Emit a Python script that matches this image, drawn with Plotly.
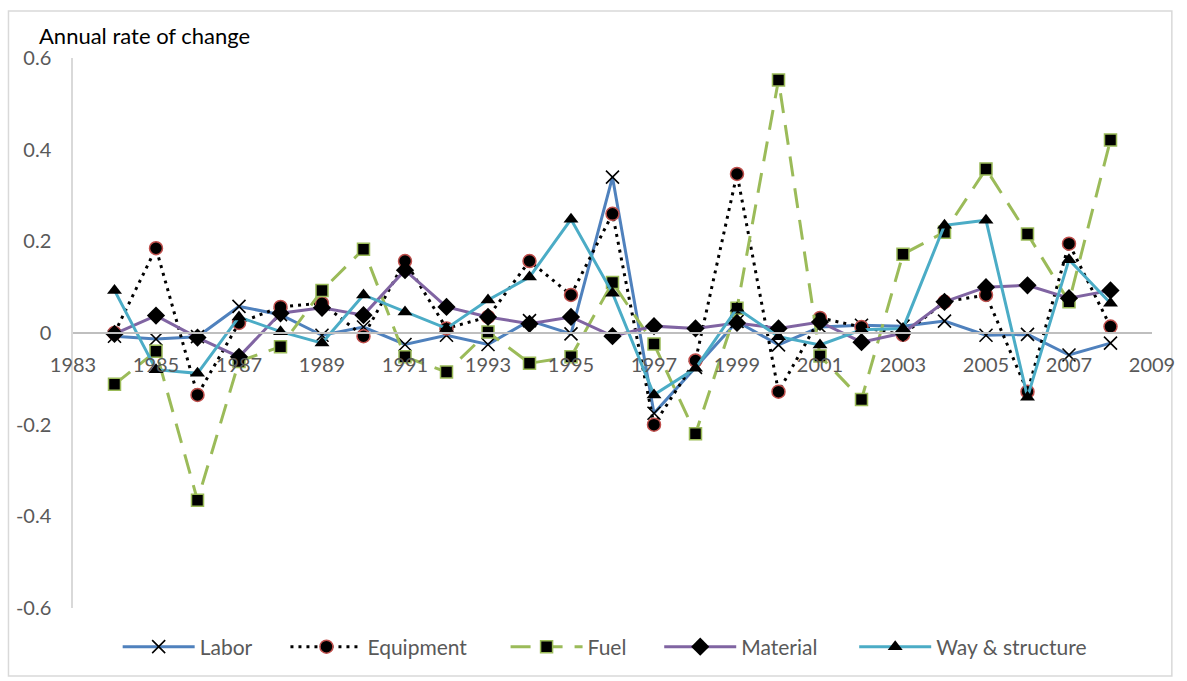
import plotly.graph_objects as go

years = list(range(1984, 2009))

labor = [-0.007, -0.013, -0.008, 0.058, 0.04, -0.005, 0.013, -0.025, -0.005, -0.025,
         0.027, -0.002, 0.34, -0.175, -0.075, 0.025, -0.026, 0.013, 0.017, 0.015,
         0.026, -0.005, -0.003, -0.048, -0.022]
equipment = [0.0, 0.185, -0.135, 0.022, 0.057, 0.065, -0.007, 0.157, 0.01, 0.035,
             0.157, 0.083, 0.26, -0.2, -0.06, 0.347, -0.128, 0.033, 0.013, -0.004,
             0.068, 0.083, -0.128, 0.195, 0.014]
fuel = [-0.112, -0.04, -0.365, -0.062, -0.03, 0.093, 0.183, -0.052, -0.085, 0.002,
        -0.066, -0.052, 0.11, -0.024, -0.22, 0.054, 0.552, -0.05, -0.145, 0.172,
        0.22, 0.358, 0.216, 0.068, 0.421]
material = [-0.002, 0.038, -0.01, -0.052, 0.043, 0.055, 0.039, 0.137, 0.057, 0.035,
            0.02, 0.035, -0.007, 0.015, 0.01, 0.022, 0.01, 0.024, -0.02, 0.0,
            0.068, 0.1, 0.104, 0.076, 0.093]
way_structure = [0.093, -0.08, -0.088, 0.035, 0.003, -0.022, 0.083, 0.046, 0.01, 0.072,
                 0.122, 0.248, 0.087, -0.135, -0.077, 0.054, -0.008, -0.026, 0.007, 0.01,
                 0.235, 0.246, -0.14, 0.16, 0.065]

y_tickvals = [0.6, 0.4, 0.2, 0, -0.2, -0.4, -0.6]
y_ticktext = ["0.6", "0.4", "0.2", "0", "-0.2", "-0.4", "-0.6"]
x_tickvals = list(range(1983, 2010, 2))

FONT = "Lato, 'Open Sans', sans-serif"
TICK_COLOR = "#595959"

fig = go.Figure()
fig.add_trace(go.Scatter(
    x=years, y=labor, name="Labor", mode="lines+markers", legend="legend",
    line=dict(color="#4F81BD", width=3),
    marker=dict(symbol="x-thin-open", size=13, color="black", line=dict(color="black", width=1.6)),
))
fig.add_trace(go.Scatter(
    x=years, y=equipment, name="Equipment", mode="lines+markers", legend="legend2",
    line=dict(color="black", width=3, dash="3px,5px"),
    marker=dict(symbol="circle", size=13, color="black", line=dict(color="#C0504D", width=1.5)),
))
fig.add_trace(go.Scatter(
    x=years, y=fuel, name="Fuel", mode="lines+markers", legend="legend3",
    line=dict(color="#9BBB59", width=3, dash="20px,12px"),
    marker=dict(symbol="square", size=12, color="black", line=dict(color="#9BBB59", width=1.5)),
))
fig.add_trace(go.Scatter(
    x=years, y=material, name="Material", mode="lines+markers", legend="legend4",
    line=dict(color="#8064A2", width=3),
    marker=dict(symbol="diamond", size=14, color="black", line=dict(color="black", width=0)),
))
fig.add_trace(go.Scatter(
    x=years, y=way_structure, name="Way & structure", mode="lines+markers", legend="legend5",
    line=dict(color="#4BACC6", width=3),
    marker=dict(symbol="triangle-up", size=13, color="black", line=dict(color="black", width=0)),
))

legend_x = [0.0414, 0.1969, 0.4009, 0.5433, 0.7240]


def leg(x):
    return dict(orientation="h", x=x, xanchor="left", y=-0.0709, yanchor="middle",
                font=dict(size=21, color=TICK_COLOR, family=FONT), itemwidth=72,
                bgcolor="rgba(0,0,0,0)", borderwidth=0)


fig.update_layout(
    width=1187, height=681,
    margin=dict(l=73, r=27, t=58, b=73),
    paper_bgcolor="white", plot_bgcolor="white",
    font=dict(family=FONT, size=20, color=TICK_COLOR),
    showlegend=True,
    legend=leg(legend_x[0]),
    legend2=leg(legend_x[1]),
    legend3=leg(legend_x[2]),
    legend4=leg(legend_x[3]),
    legend5=leg(legend_x[4]),
    xaxis=dict(range=[1983, 2009], tickvals=x_tickvals, anchor="free", position=0.5,
               showline=True, linecolor="#BFBFBF", linewidth=1.5, showgrid=False,
               zeroline=False, ticks="", ticklabelstandoff=14, ticklabeloverflow="allow",
               tickfont=dict(size=20, color=TICK_COLOR)),
    yaxis=dict(range=[-0.6, 0.6], tickvals=y_tickvals, ticktext=y_ticktext,
               showline=True, linecolor="#D9D9D9", linewidth=1.5, showgrid=False,
               zeroline=False, ticks="", ticklabelstandoff=16,
               tickfont=dict(size=20, color=TICK_COLOR)),
    annotations=[dict(text="Annual rate of change", xref="paper", yref="paper",
                      x=-0.0331, y=1.04, xanchor="left", yanchor="middle", showarrow=False,
                      font=dict(size=22, color="black", family=FONT))],
    shapes=[dict(type="rect", xref="paper", yref="paper", x0=-0.0598, x1=1.0184,
                 y0=-0.1236, y1=1.0855, line=dict(color="#D9D9D9", width=1.5), layer="below")],
)

fig.write_html("out.html", config={"displayModeBar": False},
               post_script="document.body.style.margin='0';document.body.style.overflow='hidden';")
